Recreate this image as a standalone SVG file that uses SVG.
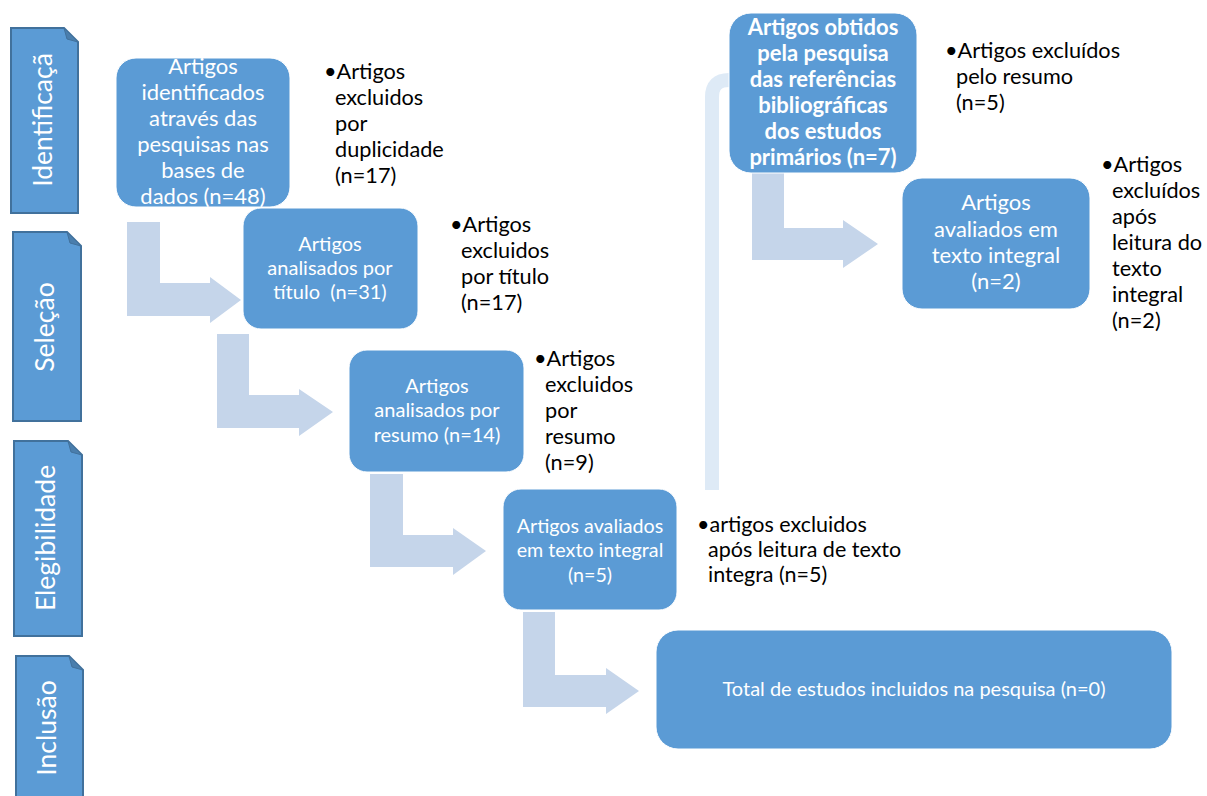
<svg xmlns="http://www.w3.org/2000/svg" width="1207" height="796" viewBox="0 0 1207 796">
<style>
.stage{fill:#5B9BD5;stroke:#41719C;stroke-width:2}
.fold{fill:#4A7EAD;stroke:#41719C;stroke-width:1}
.stxt{font-family:Lato,"Liberation Sans",sans-serif;font-size:26.5px;fill:#fff;text-anchor:middle}
.box{fill:#5B9BD5;stroke:#fff;stroke-width:1}
.btxt{font-family:Lato,"Liberation Sans",sans-serif;fill:#fff;text-anchor:middle}
.ex{font-family:Lato,"Liberation Sans",sans-serif;fill:#000}
.arr{fill:#C5D5EA}
</style>
<rect width="1207" height="796" fill="#fff"/>
<g id="stage-identificacao">
<path class="stage" d="M11,28 H64 L78,42 V213 H11 Z"/>
<path class="fold" d="M64,28 L78,42 L67,39 Z"/>
<text class="stxt" font-size="25.5" transform="translate(52,120) rotate(-90)">Identificaçã</text>
</g>
<g id="stage-selecao">
<path class="stage" d="M13,232 H67 L81,246 V421 H13 Z"/>
<path class="fold" d="M67,232 L81,246 L70,243 Z"/>
<text class="stxt" transform="translate(54,327) rotate(-90)">Seleção</text>
</g>
<g id="stage-elegibilidade">
<path class="stage" d="M14,441 H68 L82,455 V636 H14 Z"/>
<path class="fold" d="M68,441 L82,455 L71,452 Z"/>
<text class="stxt" transform="translate(55,538) rotate(-90)">Elegibilidade</text>
</g>
<g id="stage-inclusao">
<path class="stage" d="M16,656 H69 L83,670 V800 H16 Z"/>
<path class="fold" d="M69,656 L83,670 L72,667 Z"/>
<text class="stxt" transform="translate(56,728) rotate(-90)">Inclusão</text>
</g>
<g id="connectors">
<path d="M712,490 V97 Q712,80 729,80 H750" fill="none" stroke="#DEEAF6" stroke-width="14"/>
<polygon class="arr" points="127,222 160,222 160,283 210,283 210,277 241,300 210,323 210,316 127,316"/>
<polygon class="arr" points="217,334 249,334 249,395 299,395 299,389 333,412 299,436 299,428 217,428"/>
<polygon class="arr" points="370,474 403,474 403,535 453,535 453,528 486,551 453,575 453,567 370,567"/>
<polygon class="arr" points="523,612 555,612 555,675 606,675 606,668 639,691 606,714 606,707 523,707"/>
<polygon class="arr" points="752,172 784,172 784,228 843,228 843,220 878,244 843,268 843,260 752,260"/>
</g>
<g id="node-identificados">
<rect class="box" x="116" y="58" width="174" height="149" rx="20"/>
<text class="btxt" font-size="22"><tspan x="203" y="74">Artigos</tspan><tspan x="203" y="100">identificados</tspan><tspan x="203" y="126">através das</tspan><tspan x="203" y="152">pesquisas nas</tspan><tspan x="203" y="178">bases de</tspan><tspan x="203" y="204">dados (n=48)</tspan></text>
</g>
<g id="ex-duplicidade">
<text class="ex" font-size="21.7"><tspan x="324" y="79">•Artigos</tspan><tspan x="335" y="105">excluidos</tspan><tspan x="335" y="131">por</tspan><tspan x="335" y="157">duplicidade</tspan><tspan x="335" y="183">(n=17)</tspan></text>
</g>
<g id="node-titulo">
<rect class="box" x="243" y="208" width="175" height="121" rx="18"/>
<text class="btxt" font-size="20"><tspan x="330" y="251">Artigos</tspan><tspan x="330" y="275">analisados por</tspan><tspan x="330" y="299" xml:space="preserve">título  (n=31)</tspan></text>
</g>
<g id="ex-titulo">
<text class="ex" font-size="21.7"><tspan x="450" y="232">•Artigos</tspan><tspan x="461" y="258">excluidos</tspan><tspan x="461" y="284">por título</tspan><tspan x="461" y="310">(n=17)</tspan></text>
</g>
<g id="node-resumo">
<rect class="box" x="349" y="350" width="175" height="122" rx="18"/>
<text class="btxt" font-size="20"><tspan x="437" y="393">Artigos</tspan><tspan x="437" y="417">analisados por</tspan><tspan x="437" y="442">resumo (n=14)</tspan></text>
</g>
<g id="ex-resumo">
<text class="ex" font-size="21.7"><tspan x="534" y="366">•Artigos</tspan><tspan x="545" y="392">excluidos</tspan><tspan x="545" y="418">por</tspan><tspan x="545" y="444">resumo</tspan><tspan x="545" y="470">(n=9)</tspan></text>
</g>
<g id="node-texto-integral">
<rect class="box" x="503" y="489" width="174" height="121" rx="18"/>
<text class="btxt" font-size="19.7"><tspan x="590" y="533">Artigos avaliados</tspan><tspan x="590" y="557">em texto integral</tspan><tspan x="590" y="582">(n=5)</tspan></text>
</g>
<g id="ex-texto-integral">
<text class="ex" font-size="21.5"><tspan x="697" y="532">•artigos excluidos</tspan><tspan x="708" y="557">após leitura de texto</tspan><tspan x="708" y="582">integra (n=5)</tspan></text>
</g>
<g id="node-total">
<rect class="box" x="656" y="630" width="516" height="119" rx="22"/>
<text class="btxt" font-size="20" x="914" y="696">Total de estudos incluidos na pesquisa (n=0)</text>
</g>
<g id="node-referencias">
<rect class="box" x="729" y="13" width="188" height="160" rx="22"/>
<text class="btxt" font-size="22" font-weight="bold"><tspan x="823" y="35">Artigos obtidos</tspan><tspan x="823" y="61">pela pesquisa</tspan><tspan x="823" y="87">das referências</tspan><tspan x="823" y="113">bibliográficas</tspan><tspan x="823" y="139">dos estudos</tspan><tspan x="823" y="165">primários (n=7)</tspan></text>
</g>
<g id="ex-pelo-resumo">
<text class="ex" font-size="21.7"><tspan x="945" y="58">•Artigos excluídos</tspan><tspan x="956" y="84">pelo resumo</tspan><tspan x="956" y="110">(n=5)</tspan></text>
</g>
<g id="node-texto-integral-2">
<rect class="box" x="902" y="178" width="188" height="131" rx="20"/>
<text class="btxt" font-size="22"><tspan x="996" y="210">Artigos</tspan><tspan x="996" y="237">avaliados em</tspan><tspan x="996" y="263">texto integral</tspan><tspan x="996" y="289">(n=2)</tspan></text>
</g>
<g id="ex-texto-integral-2">
<text class="ex" font-size="21.7"><tspan x="1101" y="172">•Artigos</tspan><tspan x="1112" y="198">excluídos</tspan><tspan x="1112" y="224">após</tspan><tspan x="1112" y="250">leitura do</tspan><tspan x="1112" y="276">texto</tspan><tspan x="1112" y="302">integral</tspan><tspan x="1112" y="328">(n=2)</tspan></text>
</g>
</svg>
